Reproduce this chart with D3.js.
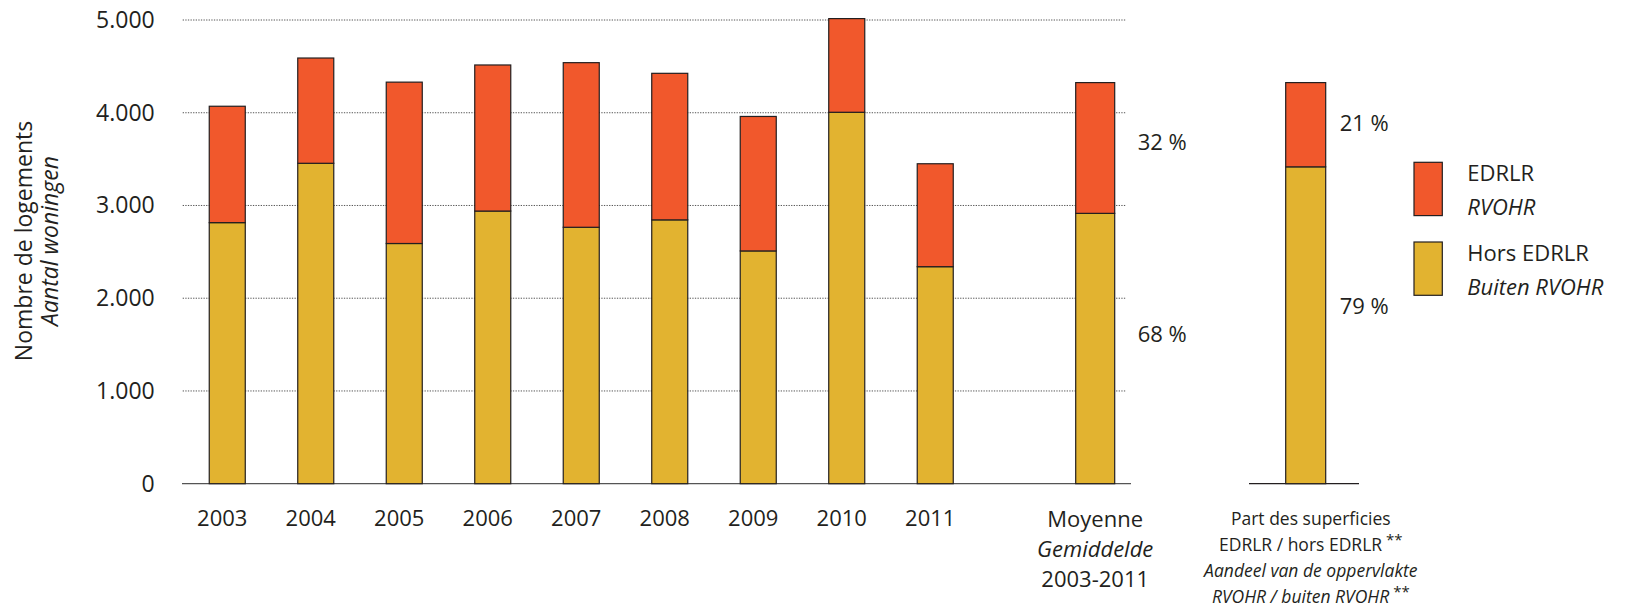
<!DOCTYPE html>
<html lang="fr">
<head>
  <meta charset="utf-8" />
  <title>Logements EDRLR</title>
  <style>
    body { margin: 0; background: #fff; }
    svg text { font-family: "Open Sans", sans-serif; fill: #231f20; }
  </style>
  <script src="https://d3js.org/d3.v7.min.js"></script>
</head>
<body>
<script>

// values
const years  = ["2003", "2004", "2005", "2006", "2007", "2008", "2009", "2010", "2011"];
const hors   = [2815, 3455, 2590, 2940, 2765, 2845, 2510, 4005, 2340];  // Hors EDRLR
const edrlr  = [1255, 1135, 1740, 1575, 1775, 1580, 1450, 1010, 1110];  // EDRLR
const avgHors  = 2915;
const avgEdrlr = 1410;
const avgPct   = ["68 %", "32 %"];
const surfShare = [79, 21];   // % hors / EDRLR
const surfPct   = ["79 %", "21 %"];
const yTicks = [0, 1000, 2000, 3000, 4000, 5000];

const colHors = "#e2b330", colEdr = "#f1582c", ink = "#231f20";

const W = 1635, H = 608;
const svg = d3.select("body").append("svg")
  .attr("width", W).attr("height", H);

// y scale
const y = d3.scaleLinear().domain([0, 5000]).range([483.7, 20]);

// x scale for the years
const x = d3.scaleBand().domain(years)
  .range([182.7, 979.8])
  .paddingInner(0.593)
  .paddingOuter(0.3);

// gridlines (dotted)
svg.append("g").selectAll("line")
  .data(yTicks.filter(t => t > 0))
  .join("line")
    .attr("x1", 182.7).attr("x2", 1126)
    .attr("y1", d => y(d)).attr("y2", d => y(d))
    .attr("stroke", "#555").attr("stroke-width", 1)
    .attr("stroke-dasharray", "1.3,1.3");

// y axis labels
const yAxis = svg.append("g")
  .attr("transform", "translate(182.7,0)")
  .call(d3.axisLeft(y).tickValues(yTicks).tickSize(0).tickPadding(28)
    .tickFormat(d => d3.format(",")(d).replace(/,/g, ".")));
yAxis.select(".domain").remove();
yAxis.selectAll("text")
  .style("font-size", "23px")
  .attr("fill", ink);

// baseline axis
svg.append("line")
  .attr("x1", 182).attr("x2", 1131)
  .attr("y1", y(0)).attr("y2", y(0))
  .attr("stroke", "#555").attr("stroke-width", 1.3);

// stacked year bars
const rows = years.map((yr, i) => ({ key: yr, hors: hors[i], edrlr: edrlr[i] }));
const stack = d3.stack().keys(["hors", "edrlr"]);
const series = stack(rows);

svg.append("g").selectAll("g")
  .data(series)
  .join("g")
    .attr("fill", d => d.key === "hors" ? colHors : colEdr)
  .selectAll("rect")
  .data(d => d)
  .join("rect")
    .attr("x", d => x(d.data.key))
    .attr("width", x.bandwidth())
    .attr("y", d => y(d[1]))
    .attr("height", d => y(d[0]) - y(d[1]))
    .attr("stroke", ink).attr("stroke-width", 1.2);

// year labels
svg.append("g").selectAll("text")
  .data(years)
  .join("text")
    .attr("x", d => x(d) + x.bandwidth() / 2 - 5)
    .attr("y", 526)
    .attr("text-anchor", "middle")
    .style("font-size", "22px")
    .text(d => d);

// average bar
const avgX = 1095.2, avgW = 39;
const avgSeg = [[0, avgHors, colHors], [avgHors, avgHors + avgEdrlr, colEdr]];
svg.append("g").selectAll("rect")
  .data(avgSeg)
  .join("rect")
    .attr("x", avgX - avgW / 2).attr("width", avgW)
    .attr("y", d => y(d[1]))
    .attr("height", d => y(d[0]) - y(d[1]))
    .attr("fill", d => d[2])
    .attr("stroke", ink).attr("stroke-width", 1.2);

svg.append("g").selectAll("text")
  .data(avgSeg)
  .join("text")
    .attr("x", avgX + avgW / 2 + 23)
    .attr("y", (d, i) => y((d[0] + d[1]) / 2) + (i === 0 ? -16 : -7))
    .attr("dominant-baseline", "central")
    .style("font-size", "22px")
    .text((d, i) => avgPct[i]);

// surface share bar (same height as average)
const ys = d3.scaleLinear().domain([0, 100]).range([y(0), y(avgHors + avgEdrlr)]);
const sX = 1305.7, sW = 40;
const sSeg = [[0, surfShare[0], colHors], [surfShare[0], 100, colEdr]];

svg.append("line")
  .attr("x1", 1249).attr("x2", 1359)
  .attr("y1", y(0)).attr("y2", y(0))
  .attr("stroke", ink).attr("stroke-width", 1.3);

svg.append("g").selectAll("rect")
  .data(sSeg)
  .join("rect")
    .attr("x", sX - sW / 2).attr("width", sW)
    .attr("y", d => ys(d[1]))
    .attr("height", d => ys(d[0]) - ys(d[1]))
    .attr("fill", d => d[2])
    .attr("stroke", ink).attr("stroke-width", 1.2);

svg.append("g").selectAll("text")
  .data(sSeg)
  .join("text")
    .attr("x", sX + sW / 2 + 14)
    .attr("y", (d, i) => ys((d[0] + d[1]) / 2) + (i === 0 ? -20 : -3))
    .attr("dominant-baseline", "central")
    .style("font-size", "22px")
    .text((d, i) => surfPct[i]);

// y axis title
const yt = svg.append("text")
  .attr("transform", "translate(32,241) rotate(-90)")
  .attr("text-anchor", "middle")
  .style("font-size", "23px");
yt.append("tspan").attr("x", 0).attr("dy", 0).text("Nombre de logements");
yt.append("tspan").attr("x", 0).attr("dy", 26).style("font-style", "italic").text("Aantal woningen");

// bottom labels
const avgLbl = [["Moyenne", "normal"], ["Gemiddelde", "italic"], ["2003-2011", "normal"]];
svg.append("g").selectAll("text")
  .data(avgLbl)
  .join("text")
    .attr("x", avgX)
    .attr("y", (d, i) => 526.7 + i * 30)
    .attr("text-anchor", "middle")
    .style("font-size", "22px")
    .style("font-style", d => d[1])
    .text(d => d[0]);

const sLbl = [["Part des superficies", "normal", ""], ["EDRLR / hors EDRLR", "normal", "**"],
              ["Aandeel van de oppervlakte", "italic", ""], ["RVOHR / buiten RVOHR", "italic", "**"]];
const sl = svg.append("g").selectAll("text")
  .data(sLbl)
  .join("text")
    .attr("x", 1310.8)
    .attr("y", (d, i) => 524.5 + i * 26)
    .attr("text-anchor", "middle")
    .style("font-size", "17.5px")
    .style("font-style", d => d[1]);
sl.append("tspan").text(d => d[0]);
sl.append("tspan").attr("dy", -6).attr("dx", 4).style("font-style", "normal").style("font-size", "15px").text(d => d[2]);

// legend
const legend = [
  { col: colEdr, l1: "EDRLR", l2: "RVOHR" },
  { col: colHors, l1: "Hors EDRLR", l2: "Buiten RVOHR" }
];
const lg = svg.append("g").selectAll("g")
  .data(legend)
  .join("g")
    .attr("transform", (d, i) => `translate(1414,${162.3 + i * 79.7})`);
lg.append("rect")
  .attr("width", 28.3).attr("height", 53.3)
  .attr("fill", d => d.col)
  .attr("stroke", ink).attr("stroke-width", 1.2);
lg.append("text")
  .attr("x", 53.3).attr("y", 19)
  .style("font-size", "22px")
  .text(d => d.l1);
lg.append("text")
  .attr("x", 53.3).attr("y", 53)
  .style("font-size", "22px").style("font-style", "italic")
  .text(d => d.l2);

</script>
</body>
</html>
